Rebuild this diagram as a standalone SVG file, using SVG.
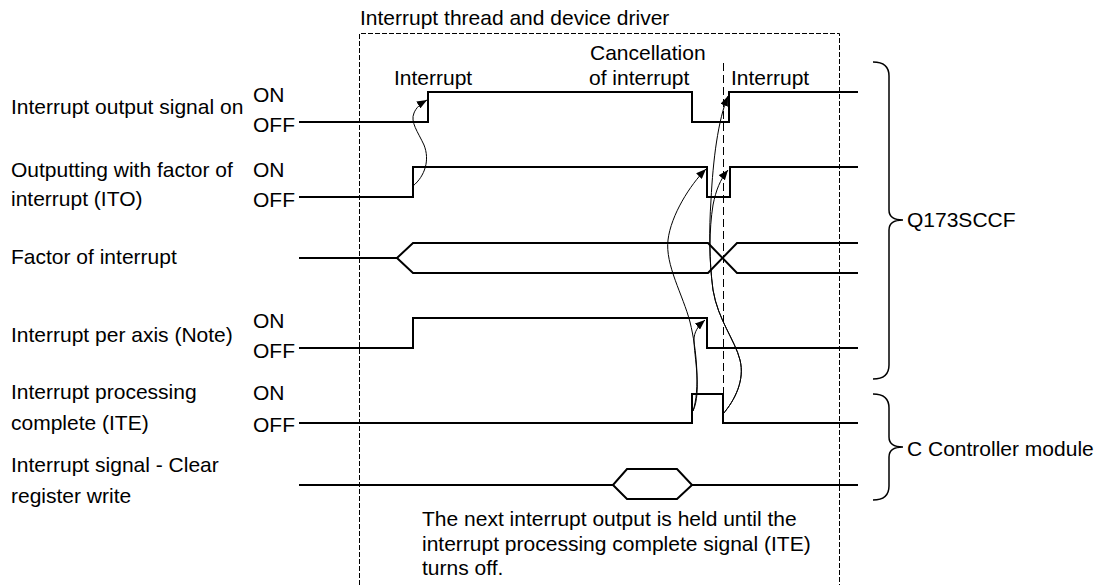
<svg xmlns="http://www.w3.org/2000/svg" width="1101" height="585" viewBox="0 0 1101 585">
<style>
  text { font-family: "Liberation Sans", Arial, sans-serif; font-size: 21px; fill: #000; }
  .sig { fill: none; stroke: #000; stroke-width: 2; }
  .cause { fill: none; stroke: #000; stroke-width: 1; }
  .box { fill: none; stroke: #000; stroke-width: 1; stroke-dasharray: 5 2; }
  .vdash { fill: none; stroke: #000; stroke-width: 1; stroke-dasharray: 8 4; }
  .brace { fill: none; stroke: #000; stroke-width: 1.5; }
</style>
<defs>
  <marker id="ah" markerUnits="userSpaceOnUse" markerWidth="11" markerHeight="8" refX="10" refY="4" orient="auto">
    <path d="M0,0 L10,4 L0,8 z" fill="#000"/>
  </marker>
</defs>
<rect width="1101" height="585" fill="#fff"/>

<g id="frame">
  <text x="360" y="25">Interrupt thread and device driver</text>
  <path class="box" d="M359.5,585 V33.5 H839.5 V585"/>
  <path class="vdash" d="M723.5,63 V394"/>
</g>

<g id="labels-top">
  <text x="394" y="85">Interrupt</text>
  <text x="590" y="60">Cancellation</text>
  <text x="589" y="85">of interrupt</text>
  <text x="731" y="85">Interrupt</text>
</g>

<g id="sig-interrupt-output">
  <text x="11" y="114">Interrupt output signal on</text>
  <text x="253" y="102">ON</text>
  <text x="253" y="132">OFF</text>
  <path class="sig" d="M299,122 H428 V92 H692 V122 H729 V92 H858"/>
</g>

<g id="sig-ito">
  <text x="11" y="177">Outputting with factor of</text>
  <text x="11" y="206">interrupt (ITO)</text>
  <text x="253" y="177">ON</text>
  <text x="253" y="207">OFF</text>
  <path class="sig" d="M299,197 H413 V167 H707 V197 H730 V167 H858"/>
</g>

<g id="sig-factor">
  <text x="11" y="264">Factor of interrupt</text>
  <path class="sig" d="M299,258 H397 L413,243 H708 L737,273 H858"/>
  <path class="sig" d="M397,258 L413,273 H708 L737,243 H858"/>
</g>

<g id="sig-axis">
  <text x="11" y="342">Interrupt per axis (Note)</text>
  <text x="253" y="328">ON</text>
  <text x="253" y="358">OFF</text>
  <path class="sig" d="M299,348 H413 V318 H707 V348 H858"/>
</g>

<g id="sig-ite">
  <text x="11" y="399">Interrupt processing</text>
  <text x="11" y="430">complete (ITE)</text>
  <text x="253" y="400">ON</text>
  <text x="253" y="432">OFF</text>
  <path class="sig" d="M299,423 H692 V394 H723 V423 H858"/>
</g>

<g id="sig-clear">
  <text x="11" y="472">Interrupt signal - Clear</text>
  <text x="11" y="503">register write</text>
  <path class="sig" d="M299,485 H613 L627,469 H677 L692,485 H858"/>
  <path class="sig" d="M613,485 L627,499 H677 L692,485"/>
</g>

<g id="note">
  <text x="422" y="526">The next interrupt output is held until the</text>
  <text x="422" y="551">interrupt processing complete signal (ITE)</text>
  <text x="422" y="575">turns off.</text>
</g>

<g id="brace-q173sccf">
  <path class="brace" d="M873,62 C883,62 889,66 889,76 V210 C889,216 893,220 903,220 C893,220 889,224 889,230 V365 C889,375 883,379 873,379"/>
  <text x="907" y="227">Q173SCCF</text>
</g>

<g id="brace-ccontroller">
  <path class="brace" d="M873,394 C883,394 889,398 889,408 V437 C889,443 893,447 903,447 C893,447 889,451 889,457 V486 C889,496 883,500 873,500"/>
  <text x="907" y="456">C Controller module</text>
</g>

<g id="connectors">
  <path class="cause" marker-end="url(#ah)" d="M413,186 C425,176 430,160 424,145 C418,132 410,122 414,113 C416,108 420,104 427,100"/>
  <path class="cause" marker-end="url(#ah)" d="M693,411 C702,392 694,355 694,340 C694,332 698,326 705,320"/>
  <path class="cause" marker-end="url(#ah)" d="M693,411 C700,390 697,350 690,322 C683,295 665,265 668,240 C671,215 690,185 706,169"/>
  <path class="cause" marker-end="url(#ah)" d="M723,414 C735,400 745,380 740,360 C735,340 718,320 713,290 C709,260 709,230 713,205 C716,190 720,180 728,170"/>
  <path class="cause" marker-end="url(#ah)" d="M723,414 C735,400 745,380 740,360 C735,340 718,320 713,290 C709,260 709,230 711,200 C713,160 718,120 728,96"/>
</g>
</svg>
